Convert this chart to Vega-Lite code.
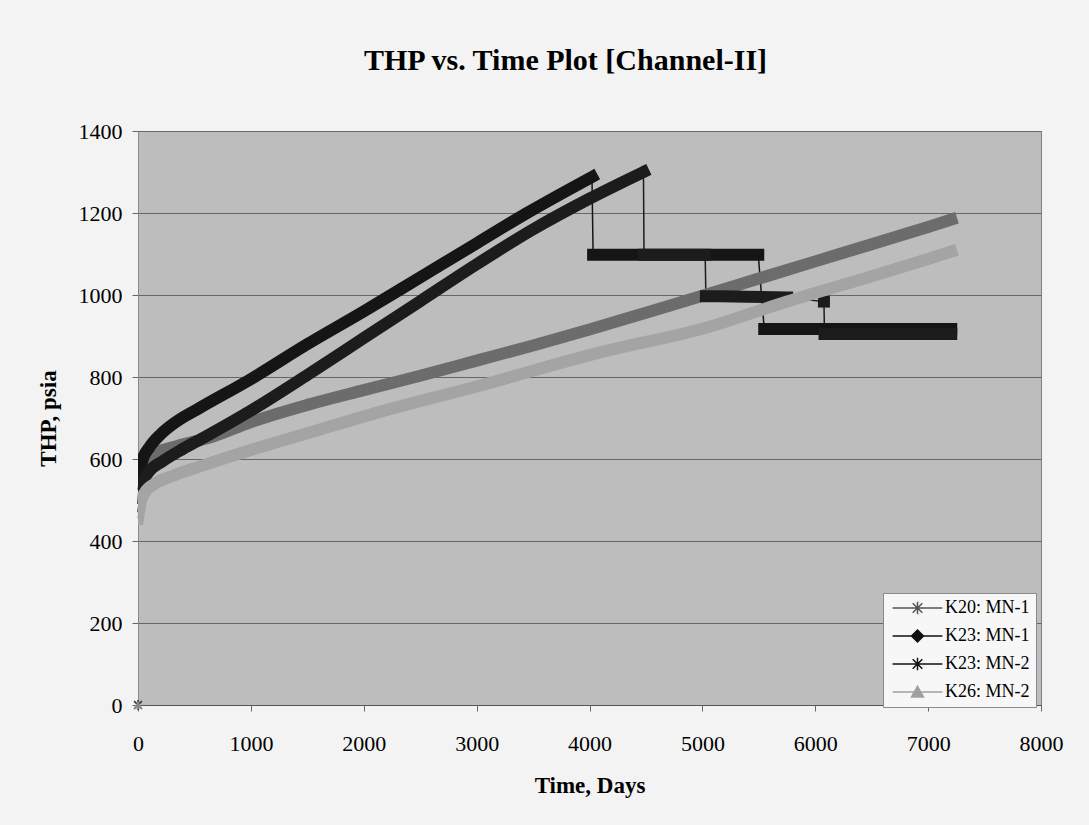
{
  "$schema": "https://vega.github.io/schema/vega-lite/v6.json",
  "autosize": {"type": "none"},
  "width": 903,
  "height": 574,
  "padding": {"left": 138, "top": 131, "right": 48, "bottom": 120},
  "background": "#f3f3f3",
  "title": {
    "text": "THP vs. Time Plot [Channel-II]",
    "font": "Liberation Serif",
    "fontSize": 30,
    "fontWeight": "bold",
    "color": "#000000",
    "anchor": "middle",
    "frame": "group",
    "dx": -24,
    "offset": 44
  },
  "data": {
    "values": [
      {"s": "K20: MN-1", "st": 0, "t": 0, "v": 0},
      {"s": "K20: MN-1", "st": 1, "t": 0, "v": 525},
      {"s": "K20: MN-1", "st": 1, "t": 30, "v": 575},
      {"s": "K20: MN-1", "st": 1, "t": 80, "v": 600},
      {"s": "K20: MN-1", "st": 1, "t": 133, "v": 612},
      {"s": "K20: MN-1", "st": 1, "t": 300, "v": 628},
      {"s": "K20: MN-1", "st": 1, "t": 664, "v": 655},
      {"s": "K20: MN-1", "st": 1, "t": 1000, "v": 690},
      {"s": "K20: MN-1", "st": 1, "t": 1500, "v": 732},
      {"s": "K20: MN-1", "st": 1, "t": 2000, "v": 768},
      {"s": "K20: MN-1", "st": 1, "t": 2500, "v": 803},
      {"s": "K20: MN-1", "st": 1, "t": 3000, "v": 840},
      {"s": "K20: MN-1", "st": 1, "t": 3500, "v": 877},
      {"s": "K20: MN-1", "st": 1, "t": 4000, "v": 916},
      {"s": "K20: MN-1", "st": 1, "t": 4500, "v": 957},
      {"s": "K20: MN-1", "st": 1, "t": 5000, "v": 998},
      {"s": "K20: MN-1", "st": 1, "t": 5500, "v": 1040},
      {"s": "K20: MN-1", "st": 1, "t": 6000, "v": 1082},
      {"s": "K20: MN-1", "st": 1, "t": 6500, "v": 1124},
      {"s": "K20: MN-1", "st": 1, "t": 7000, "v": 1166},
      {"s": "K20: MN-1", "st": 1, "t": 7205, "v": 1184},

      {"s": "K23: MN-1", "st": 1, "t": 0, "v": 490},
      {"s": "K23: MN-1", "st": 1, "t": 15, "v": 560},
      {"s": "K23: MN-1", "st": 1, "t": 40, "v": 598},
      {"s": "K23: MN-1", "st": 1, "t": 100, "v": 628},
      {"s": "K23: MN-1", "st": 1, "t": 200, "v": 660},
      {"s": "K23: MN-1", "st": 1, "t": 350, "v": 693},
      {"s": "K23: MN-1", "st": 1, "t": 549, "v": 725},
      {"s": "K23: MN-1", "st": 1, "t": 1000, "v": 795},
      {"s": "K23: MN-1", "st": 1, "t": 1500, "v": 880},
      {"s": "K23: MN-1", "st": 1, "t": 2000, "v": 960},
      {"s": "K23: MN-1", "st": 1, "t": 2500, "v": 1043},
      {"s": "K23: MN-1", "st": 1, "t": 3000, "v": 1126},
      {"s": "K23: MN-1", "st": 1, "t": 3446, "v": 1200},
      {"s": "K23: MN-1", "st": 1, "t": 4022, "v": 1288},
      {"s": "K23: MN-1", "st": 2, "t": 4032, "v": 1098},
      {"s": "K23: MN-1", "st": 2, "t": 5495, "v": 1098},
      {"s": "K23: MN-1", "st": 3, "t": 5548, "v": 917},
      {"s": "K23: MN-1", "st": 3, "t": 7205, "v": 917},

      {"s": "K23: MN-2", "st": 0, "t": 0, "v": 0},
      {"s": "K23: MN-2", "st": 1, "t": 0, "v": 470},
      {"s": "K23: MN-2", "st": 1, "t": 20, "v": 520},
      {"s": "K23: MN-2", "st": 1, "t": 50, "v": 548},
      {"s": "K23: MN-2", "st": 1, "t": 100, "v": 570},
      {"s": "K23: MN-2", "st": 1, "t": 220, "v": 595},
      {"s": "K23: MN-2", "st": 1, "t": 400, "v": 625},
      {"s": "K23: MN-2", "st": 1, "t": 600, "v": 655},
      {"s": "K23: MN-2", "st": 1, "t": 1000, "v": 718},
      {"s": "K23: MN-2", "st": 1, "t": 1500, "v": 805},
      {"s": "K23: MN-2", "st": 1, "t": 2000, "v": 895},
      {"s": "K23: MN-2", "st": 1, "t": 2500, "v": 985},
      {"s": "K23: MN-2", "st": 1, "t": 3000, "v": 1075},
      {"s": "K23: MN-2", "st": 1, "t": 3500, "v": 1160},
      {"s": "K23: MN-2", "st": 1, "t": 4000, "v": 1235},
      {"s": "K23: MN-2", "st": 1, "t": 4478, "v": 1300},
      {"s": "K23: MN-2", "st": 2, "t": 4483, "v": 1098},
      {"s": "K23: MN-2", "st": 2, "t": 5025, "v": 1098},
      {"s": "K23: MN-2", "st": 3, "t": 5031, "v": 997},
      {"s": "K23: MN-2", "st": 3, "t": 5400, "v": 996},
      {"s": "K23: MN-2", "st": 3, "t": 5750, "v": 994},
      {"s": "K23: MN-2", "st": 4, "t": 6077, "v": 984},
      {"s": "K23: MN-2", "st": 5, "t": 6082, "v": 905},
      {"s": "K23: MN-2", "st": 5, "t": 7205, "v": 905},

      {"s": "K26: MN-2", "st": 0, "t": 0, "v": 0},
      {"s": "K26: MN-2", "st": 1, "t": 0, "v": 455},
      {"s": "K26: MN-2", "st": 1, "t": 20, "v": 490},
      {"s": "K26: MN-2", "st": 1, "t": 60, "v": 518},
      {"s": "K26: MN-2", "st": 1, "t": 150, "v": 540},
      {"s": "K26: MN-2", "st": 1, "t": 300, "v": 558},
      {"s": "K26: MN-2", "st": 1, "t": 549, "v": 582},
      {"s": "K26: MN-2", "st": 1, "t": 1000, "v": 622},
      {"s": "K26: MN-2", "st": 1, "t": 1500, "v": 663},
      {"s": "K26: MN-2", "st": 1, "t": 2144, "v": 715},
      {"s": "K26: MN-2", "st": 1, "t": 3000, "v": 777},
      {"s": "K26: MN-2", "st": 1, "t": 4093, "v": 860},
      {"s": "K26: MN-2", "st": 1, "t": 5031, "v": 920},
      {"s": "K26: MN-2", "st": 1, "t": 5750, "v": 984},
      {"s": "K26: MN-2", "st": 1, "t": 6500, "v": 1046},
      {"s": "K26: MN-2", "st": 1, "t": 7000, "v": 1088},
      {"s": "K26: MN-2", "st": 1, "t": 7205, "v": 1106}
    ]
  },
  "encoding": {
    "x": {
      "field": "t",
      "type": "quantitative",
      "scale": {"domain": [0, 8000], "nice": false},
      "axis": {
        "title": "Time, Days",
        "format": "d",
        "values": [0, 1000, 2000, 3000, 4000, 5000, 6000, 7000, 8000],
        "grid": false,
        "labelFont": "Liberation Serif",
        "labelFontSize": 22,
        "labelColor": "#000000",
        "labelPadding": 22,
        "labelFlush": false,
        "labelOverlap": false,
        "titlePadding": 20,
        "domainColor": "#555555"
      }
    },
    "y": {
      "field": "v",
      "type": "quantitative",
      "scale": {"domain": [0, 1400], "nice": false},
      "axis": {
        "title": "THP, psia",
        "format": "d",
        "values": [0, 200, 400, 600, 800, 1000, 1200, 1400],
        "grid": true,
        "gridColor": "#666666",
        "gridWidth": 1,
        "labelFont": "Liberation Serif",
        "labelFontSize": 22,
        "labelColor": "#000000",
        "labelPadding": 10,
        "titlePadding": 18,
        "domainColor": "#8a8a8a"
      }
    }
  },
  "layer": [
    {
      "transform": [{"filter": "datum.st > 0"}],
      "mark": {"type": "line", "strokeWidth": 1.5},
      "encoding": {
        "color": {
          "field": "s",
          "type": "nominal",
          "scale": {"range": ["#6c6c6c", "#151515", "#1c1c1c", "#a4a4a4"]},
          "legend": null
        }
      }
    },
    {
      "transform": [{"filter": "datum.st > 0"}],
      "mark": {"type": "line", "strokeWidth": 12, "strokeCap": "square", "strokeJoin": "round", "interpolate": "monotone", "clip": true},
      "encoding": {
        "color": {"field": "s", "type": "nominal", "legend": null},
        "detail": {"field": "st", "type": "nominal"}
      }
    },
    {
      "transform": [{"filter": "datum.st == 0 && datum.s != 'K26: MN-2'"}],
      "mark": {"type": "point", "shape": "M-1,-1L1,1M-1,1L1,-1M0,-1.3V1.3", "size": 60, "filled": false, "strokeWidth": 1.5},
      "encoding": {
        "color": {"field": "s", "type": "nominal", "legend": null}
      }
    },
    {
      "transform": [{"filter": "datum.st == 0 && datum.s == 'K26: MN-2'"}],
      "mark": {"type": "point", "shape": "triangle-up", "size": 90, "filled": true},
      "encoding": {
        "color": {"field": "s", "type": "nominal", "legend": null}
      }
    },
    {
      "transform": [{"filter": "datum.st == 0"}],
      "mark": {"type": "point", "filled": true, "opacity": 0, "strokeWidth": 1.5},
      "encoding": {
        "fill": {
          "field": "s",
          "type": "nominal",
          "scale": {
            "domain": ["K20: MN-1", "K23: MN-1", "K23: MN-2", "K26: MN-2"],
            "range": ["#555555", "#111111", "#111111", "#a0a0a0"]
          },
          "legend": {"title": null}
        },
        "stroke": {
          "field": "s",
          "type": "nominal",
          "scale": {
            "domain": ["K20: MN-1", "K23: MN-1", "K23: MN-2", "K26: MN-2"],
            "range": ["#555555", "#111111", "#111111", "#a0a0a0"]
          },
          "legend": {"title": null}
        },
        "shape": {
          "field": "s",
          "type": "nominal",
          "scale": {
            "domain": ["K20: MN-1", "K23: MN-1", "K23: MN-2", "K26: MN-2"],
            "range": [
              "M-0.9,0H7.4M2.45,-0.8L4.05,0.8M2.45,0.8L4.05,-0.8M3.25,-1.05V1.05",
              "M-0.9,0H7.4M3.25,-1L4.25,0L3.25,1L2.25,0Z",
              "M-0.9,0H7.4M2.45,-0.8L4.05,0.8M2.45,0.8L4.05,-0.8M3.25,-1.05V1.05",
              "M-0.9,0H7.4M3.25,-0.95L4.25,0.85L2.25,0.85Z"
            ]
          },
          "legend": {"title": null}
        }
      }
    }
  ],
  "config": {
    "view": {"fill": "#bdbdbd", "stroke": "#7f7f7f", "strokeWidth": 1},
    "axis": {
      "titleFont": "Liberation Serif",
      "titleFontSize": 23,
      "titleFontWeight": "bold",
      "titleColor": "#000000",
      "tickColor": "#666666",
      "tickSize": 6
    },
    "legend": {
      "orient": "none",
      "legendX": 745,
      "legendY": 462,
      "padding": 6,
      "fillColor": "#f7f7f7",
      "strokeColor": "#8a8a8a",
      "symbolSize": 144,
      "symbolStrokeWidth": 1.5,
      "symbolOpacity": 1,
      "labelFont": "Liberation Serif",
      "labelFontSize": 18,
      "labelColor": "#000000",
      "labelOffset": 38,
      "rowPadding": 9
    }
  }
}
